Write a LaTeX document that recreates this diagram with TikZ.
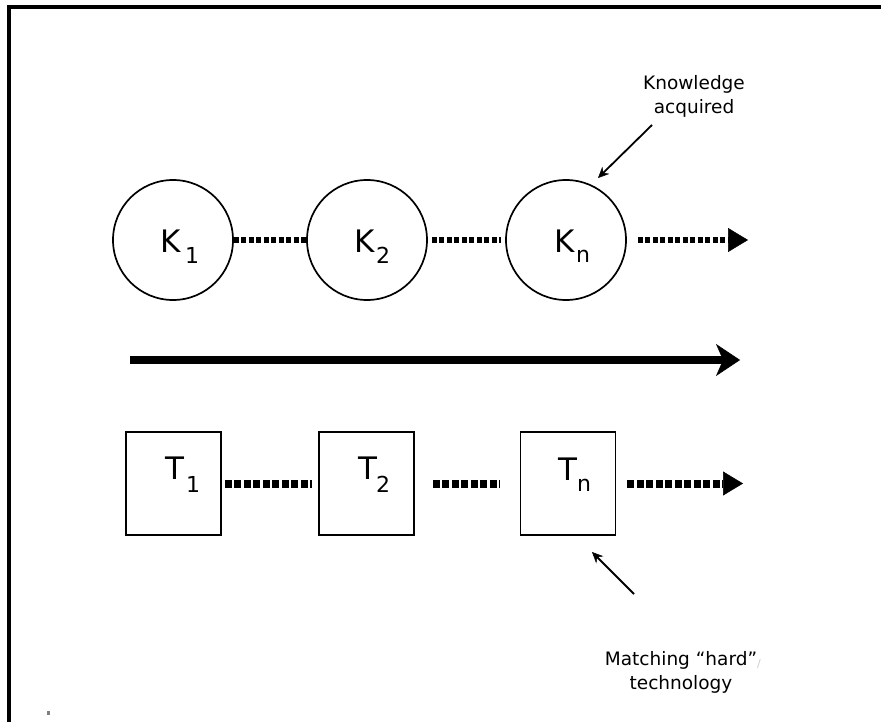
\documentclass[tikz,border=0pt]{standalone}
\usepackage{fontspec}
\setmainfont{DejaVu Sans}
\usetikzlibrary{arrows.meta}
\begin{document}
\begin{tikzpicture}[x=1pt,y=-1pt,
  kcircle/.style={circle,draw,line width=1.7pt,minimum size=120pt,inner sep=0pt},
  tbox/.style={rectangle,draw,line width=1.8pt,minimum width=95pt,minimum height=103pt,inner sep=0pt},
  main/.style={font=\fontsize{31}{31}\selectfont,inner sep=0pt,anchor=base west},
  sub/.style={font=\fontsize{22}{22}\selectfont,inner sep=0pt,anchor=base west},
  kdots/.style={line width=6.5pt,dash pattern=on 5pt off 2.5pt},
  tdots/.style={line width=8pt,dash pattern=on 7pt off 2.5pt},
  bighead/.style={-{Triangle[length=20pt,width=24pt,line width=0.5pt]}},
  note/.style={font=\fontsize{18.5}{24}\selectfont,align=center,inner sep=0pt},
  pointer/.style={line width=1.8pt,-{Stealth[length=11pt,width=10pt,line width=0.5pt]}}]
\useasboundingbox (0,0) rectangle (881,722);
\fill[white] (0,0) rectangle (881,722);
% frame on the left and top
\draw[line width=4pt] (8.5,722) -- (8.5,7) -- (881,7);

% knowledge row
\node[kcircle] (k1) at (173,240) {};
\node[kcircle] (k2) at (367,240) {};
\node[kcircle] (kn) at (566,240) {};
\node[main] (k1a) at (160,253) {K};
\node[sub]  (k1b) at (185,264) {1};
\node[main] (k2a) at (354,253) {K};
\node[sub]  (k2b) at (376,264) {2};
\node[main] (kna) at (554,252) {K};
\node[sub]  (knb) at (576,262) {n};
\coordinate (kend) at (748,240);
\draw[kdots] (k1) -- (k2);
\draw[kdots,shorten <=4pt,shorten >=4pt] (k2) -- (kn);
\draw[kdots,bighead,shorten <=11pt] (kn) -- (kend);

% time axis
\coordinate (ax0) at (130,360);
\coordinate (ax1) at (740,360);
\draw[line width=7.5pt,-{Stealth[length=24pt,width=32pt,inset=7pt,line width=0.5pt]}] (ax0) -- (ax1);

% technology row
\node[tbox] (t1) at (173.5,483.5) {};
\node[tbox] (t2) at (366.5,483.5) {};
\node[tbox] (tn) at (568,483.5) {};
\node[main] (t1a) at (165,479) {T};
\node[sub]  (t1b) at (186,492) {1};
\node[main] (t2a) at (358,479) {T};
\node[sub]  (t2b) at (376,492) {2};
\node[main] (tna) at (558,480) {T};
\node[sub]  (tnb) at (577,491) {n};
\coordinate (tend) at (743,483.5);
\draw[tdots,shorten <=3pt,shorten >=6pt] (t1) -- (t2);
\draw[tdots,shorten <=18pt,shorten >=20pt] (t2) -- (tn);
\draw[tdots,bighead,shorten <=11pt] (tn) -- (tend);

% annotations
\node[note] (know) at (694,96) {Knowledge\\acquired};
\coordinate (kp0) at (652,125);
\coordinate (kp1) at (598,178);
\draw[pointer] (kp0) -- (kp1);

\node[note] (match) at (681,672) {Matching “hard”\\technology};
\node[gray!40,font=\fontsize{11}{11}\selectfont,inner sep=0pt] (mk) at (759,664) {/};
\coordinate (mp0) at (634,594);
\coordinate (mp1) at (592,552);
\draw[pointer] (mp0) -- (mp1);

\fill[gray] (47,711) rectangle (49.5,715);
\end{tikzpicture}
\end{document}
